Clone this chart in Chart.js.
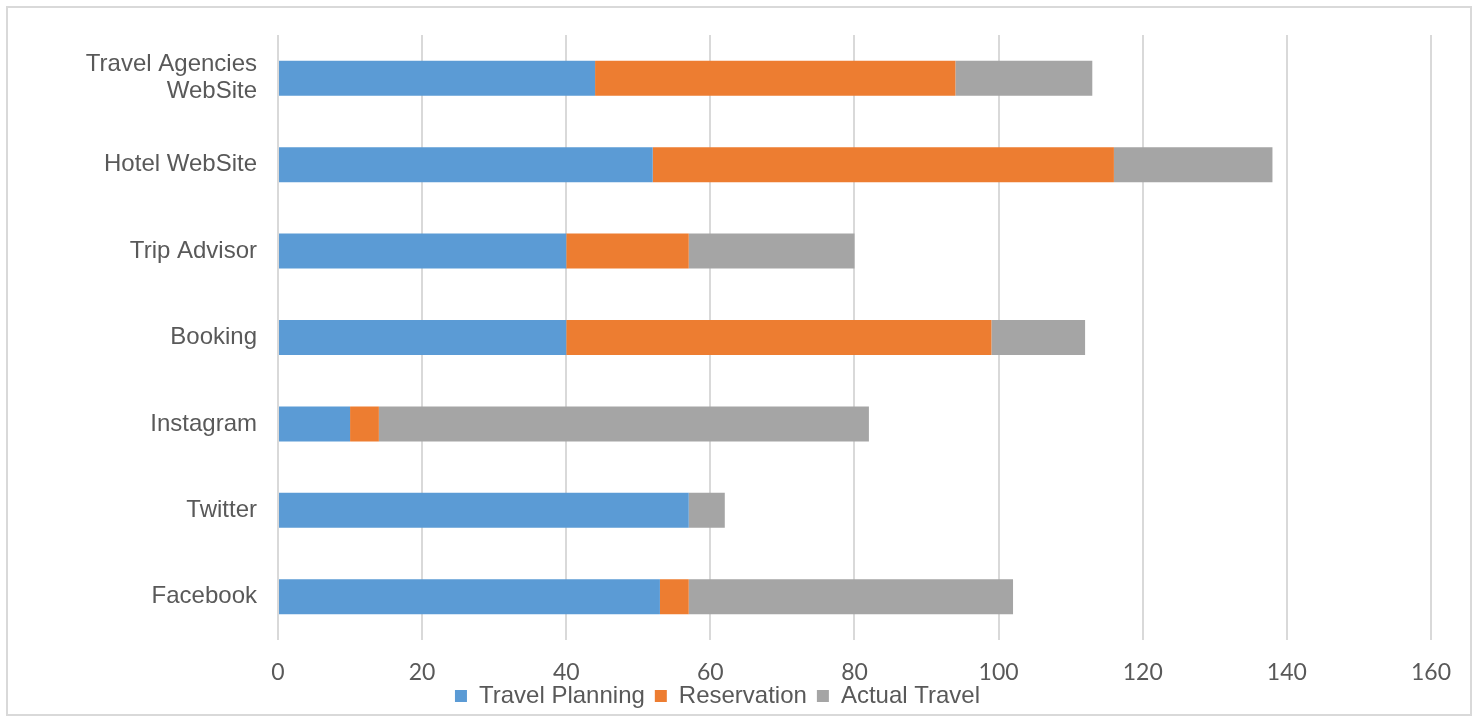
<!DOCTYPE html>
<html>
<head>
<meta charset="utf-8">
<script src="https://cdn.jsdelivr.net/npm/chart.js@4/dist/chart.umd.min.js"></script>
<style>
html,body{margin:0;padding:0;background:#fff;}
#box{position:absolute;left:6px;top:6px;width:1462px;height:706px;border:2px solid #d9d9d9;}
canvas{display:block;}
</style>
</head>
<body>
<div id="box"><canvas id="c" width="1462" height="706"></canvas></div>
<script>
const categories = [["Travel Agencies","WebSite"],"Hotel WebSite","Trip Advisor","Booking","Instagram","Twitter","Facebook"];
const travelPlanning = [44, 52, 40, 40, 10, 57, 53];
const reservation = [50, 64, 17, 59, 4, 0, 4];
const actualTravel = [19, 22, 23, 13, 68, 5, 45];
const xTicks = [0, 20, 40, 60, 80, 100, 120, 140, 160];

const gothic = "'Century Gothic','URW Gothic','Lato','Liberation Sans',sans-serif";
const arial = "'Liberation Sans',Arial,sans-serif";

// shifts the legend so it sits tight under the axis labels, as in the reference
const legendNudge = {
  id: 'legendNudge',
  afterLayout(chart) {
    const lg = chart.legend;
    if (!lg) return;
    lg.top -= 14; lg.bottom -= 14;
    lg.left -= 2; lg.right -= 2;
  }
};

new Chart(document.getElementById('c'), {
  type: 'bar',
  data: {
    labels: categories,
    datasets: [
      {label: 'Travel Planning', data: travelPlanning, backgroundColor: '#5B9BD5'},
      {label: 'Reservation', data: reservation, backgroundColor: '#ED7D31'},
      {label: 'Actual Travel', data: actualTravel, backgroundColor: '#A5A5A5'}
    ]
  },
  plugins: [legendNudge],
  options: {
    indexAxis: 'y',
    responsive: false,
    animation: false,
    datasets: {bar: {categoryPercentage: 1, barPercentage: 0.405}},
    layout: {padding: {left: 0, right: 39, top: 27, bottom: -18}},
    plugins: {
      legend: {
        position: 'bottom',
        labels: {
          boxWidth: 12, boxHeight: 12, padding: 10,
          color: '#595959',
          font: {family: arial, size: 24}
        }
      },
      tooltip: {enabled: false}
    },
    scales: {
      x: {
        stacked: true,
        min: 0, max: 160,
        afterBuildTicks: s => { s.ticks = xTicks.map(v => ({value: v})); },
        afterFit: s => { s.height = 48; },
        grid: {color: '#d9d9d9', lineWidth: 2, drawTicks: false},
        border: {display: false},
        ticks: {color: '#595959', padding: 19, font: {family: gothic, size: 23}}
      },
      y: {
        stacked: true,
        grid: {display: false, drawTicks: false},
        border: {display: false},
        afterFit: s => { s.width = 270; s.paddingTop = 0; s.paddingBottom = 0; },
        ticks: {color: '#595959', padding: 21, font: {family: arial, size: 24, lineHeight: 1.12}}
      }
    }
  }
});
</script>
</body>
</html>
